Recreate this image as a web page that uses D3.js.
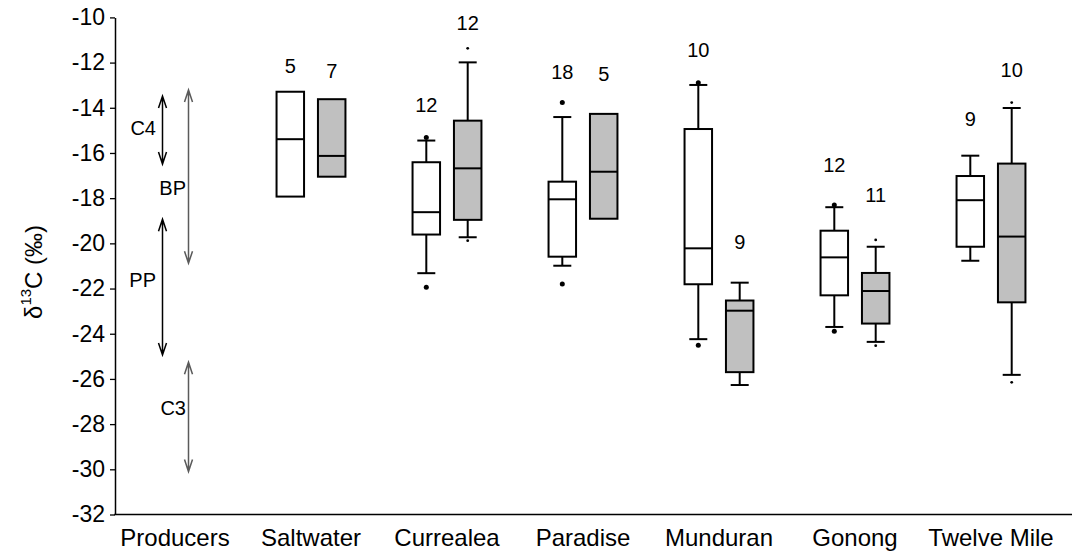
<!DOCTYPE html>
<html>
<head>
<meta charset="utf-8">
<script src="https://cdn.jsdelivr.net/npm/d3@7"></script>
<style>
  html, body { margin: 0; padding: 0; background: #fff; }
  svg { display: block; font-family: Arial, "Liberation Sans", sans-serif; }
</style>
</head>
<body>
<svg id="chart" width="1072" height="551"></svg>
<script>
// Sampling sites along the x axis (first slot holds the producer ranges)
const categories = ["Producers", "Saltwater", "Currealea", "Paradise", "Munduran", "Gonong", "Twelve Mile"];
const yTicks = [-10, -12, -14, -16, -18, -20, -22, -24, -26, -28, -30, -32];

// Open boxes: δ13C summary per site (whiskers null where none drawn)
const openBoxes = [
  { site: "Saltwater",   n: 5,  hi: null,   q3: -13.29, med: -15.39, q1: -17.93, lo: null,   out: [] },
  { site: "Currealea",   n: 12, hi: -15.45, q3: -16.41, med: -18.62, q1: -19.61, lo: -21.32, out: [-15.32, -21.94] },
  { site: "Paradise",    n: 18, hi: -14.41, q3: -17.27, med: -18.05, q1: -20.59, lo: -20.99, out: [-13.77, -21.80] },
  { site: "Munduran",    n: 10, hi: -12.99, q3: -14.94, med: -20.22, q1: -21.81, lo: -24.24, out: [-12.89, -24.51] },
  { site: "Gonong",      n: 12, hi: -18.40, q3: -19.44, med: -20.62, q1: -22.30, lo: -23.70, out: [-18.30, -23.89] },
  { site: "Twelve Mile", n: 9,  hi: -16.12, q3: -17.02, med: -18.09, q1: -20.15, lo: -20.77, out: [] }
];

// Shaded boxes: δ13C summary per site
const shadedBoxes = [
  { site: "Saltwater",   n: 7,  hi: null,   q3: -13.62, med: -16.13, q1: -17.05, lo: null,   out: [] },
  { site: "Currealea",   n: 12, hi: -11.99, q3: -14.57, med: -16.68, q1: -18.96, lo: -19.73, out: [-11.37, -19.88] },
  { site: "Paradise",    n: 5,  hi: null,   q3: -14.27, med: -16.83, q1: -18.91, lo: null,   out: [] },
  { site: "Munduran",    n: 9,  hi: -21.74, q3: -22.53, med: -22.98, q1: -25.70, lo: -26.27, out: [] },
  { site: "Gonong",      n: 11, hi: -20.15, q3: -21.31, med: -22.11, q1: -23.55, lo: -24.36, out: [-19.85, -24.53] },
  { site: "Twelve Mile", n: 10, hi: -14.01, q3: -16.47, med: -19.70, q1: -22.61, lo: -25.82, out: [-13.77, -26.15] }
];

// Sample-size labels, placed at these δ13C levels
const openCountLevel   = [-12.14, -13.88, -12.43, -11.46, -16.53, -14.50];
const shadedCountLevel = [-12.36, -10.23, -12.50, -19.92, -17.86, -12.33];

// Producer δ13C ranges (double-headed arrows)
const producerRanges = [
  { label: "C4", lo: -16.49, hi: -13.48, labelAt: -14.91, column: 0 },
  { label: "BP", lo: -20.88, hi: -13.21, labelAt: -17.56, column: 1 },
  { label: "PP", lo: -24.94, hi: -18.93, labelAt: -21.62, column: 0 },
  { label: "C3", lo: -30.10, hi: -25.26, labelAt: -27.30, column: 1 }
];

const svg = d3.select("#chart");
const axisX = 115, axisBottomY = 514.5;

const y = d3.scaleLinear().domain([-32, -10]).range([514.5, 17.4]);
const x = d3.scaleBand().domain(categories).range([107, 1059]);
const center = c => x(c) + x.bandwidth() / 2;

const boxW = 27.5, capW = 18, pairOffset = 20.7;

// Y axis
const yAxisG = svg.append("g")
  .attr("transform", `translate(${axisX},0)`)
  .call(d3.axisLeft(y).tickValues(yTicks).tickSize(5).tickSizeOuter(0).tickPadding(5).tickFormat(d3.format("d")));
yAxisG.select(".domain").attr("stroke", "#000").attr("stroke-width", 1.5);
yAxisG.selectAll(".tick line").attr("stroke", "#000").attr("stroke-width", 1.3);
yAxisG.selectAll(".tick text")
  .attr("font-size", 23).attr("fill", "#000")
  .text(d => d < 0 ? "-" + Math.abs(d) : d);

// X axis baseline and category labels
svg.append("line")
  .attr("x1", axisX - 0.75).attr("x2", 1072)
  .attr("y1", axisBottomY).attr("y2", axisBottomY)
  .attr("stroke", "#000").attr("stroke-width", 1.5);
const xAxisG = svg.append("g")
  .attr("transform", `translate(0,${axisBottomY})`)
  .call(d3.axisBottom(x).tickSize(0).tickPadding(14));
xAxisG.select(".domain").remove();
xAxisG.selectAll(".tick text").attr("font-size", 24).attr("fill", "#000");

// Y axis title: δ13C (‰)
const title = svg.append("text")
  .attr("transform", `translate(33,${(17.4 + 514.5) / 2 + 6}) rotate(-90)`)
  .attr("text-anchor", "middle")
  .attr("dominant-baseline", "central")
  .attr("font-size", 24).attr("fill", "#000");
title.append("tspan").text("δ");
title.append("tspan").attr("font-size", 15).attr("dy", "-0.55em").text("13");
title.append("tspan").attr("dy", "0.35em").text("C (‰)");

// Producer ranges
const pc = center("Producers");
const colX = [pc - 12.5, pc + 13.5];
const labelGap = [6.5, 2.5];
const arrowColor = ["#000", "#5a5a5a"];
function arrowPath(xc, yTop, yBot) {
  const hl = 12, hw = 4;
  return `M${xc},${yTop}L${xc},${yBot}` +
    `M${xc - hw},${yTop + hl}L${xc},${yTop}L${xc + hw},${yTop + hl}` +
    `M${xc - hw},${yBot - hl}L${xc},${yBot}L${xc + hw},${yBot - hl}`;
}
const prod = svg.append("g");
producerRanges.forEach(r => {
  const xc = colX[r.column];
  prod.append("path")
    .attr("d", arrowPath(xc, y(r.hi), y(r.lo)))
    .attr("fill", "none")
    .attr("stroke", arrowColor[r.column])
    .attr("stroke-width", 1.5);
  prod.append("text")
    .attr("x", xc - labelGap[r.column]).attr("y", y(r.labelAt))
    .attr("text-anchor", "end")
    .attr("dominant-baseline", "central")
    .attr("font-size", 20).attr("fill", "#000")
    .text(r.label);
});

// Box plots
function drawBoxes(data, levels, dx, fill, dotR) {
  const g = svg.append("g");
  data.forEach((d, i) => {
    const cx = center(d.site) + dx;
    if (d.hi !== null) {
      g.append("line").attr("x1", cx).attr("x2", cx).attr("y1", y(d.hi)).attr("y2", y(d.q3))
        .attr("stroke", "#000").attr("stroke-width", 2);
      g.append("line").attr("x1", cx - capW / 2).attr("x2", cx + capW / 2).attr("y1", y(d.hi)).attr("y2", y(d.hi))
        .attr("stroke", "#000").attr("stroke-width", 2);
    }
    if (d.lo !== null) {
      g.append("line").attr("x1", cx).attr("x2", cx).attr("y1", y(d.q1)).attr("y2", y(d.lo))
        .attr("stroke", "#000").attr("stroke-width", 2);
      g.append("line").attr("x1", cx - capW / 2).attr("x2", cx + capW / 2).attr("y1", y(d.lo)).attr("y2", y(d.lo))
        .attr("stroke", "#000").attr("stroke-width", 2);
    }
    g.append("rect")
      .attr("x", cx - boxW / 2).attr("width", boxW)
      .attr("y", y(d.q3)).attr("height", y(d.q1) - y(d.q3))
      .attr("fill", fill).attr("stroke", "#000").attr("stroke-width", 2);
    g.append("line").attr("x1", cx - boxW / 2).attr("x2", cx + boxW / 2).attr("y1", y(d.med)).attr("y2", y(d.med))
      .attr("stroke", "#000").attr("stroke-width", 2);
    d.out.forEach(v => {
      g.append("circle").attr("cx", cx).attr("cy", y(v)).attr("r", dotR).attr("fill", "#000");
    });
    g.append("text")
      .attr("x", cx).attr("y", y(levels[i]))
      .attr("text-anchor", "middle")
      .attr("dominant-baseline", "central")
      .attr("font-size", 20).attr("fill", "#000")
      .text(d.n);
  });
}
drawBoxes(openBoxes, openCountLevel, -pairOffset, "#fff", 2.5);
drawBoxes(shadedBoxes, shadedCountLevel, pairOffset, "#c0c0c0", 1.4);
</script>
</body>
</html>
